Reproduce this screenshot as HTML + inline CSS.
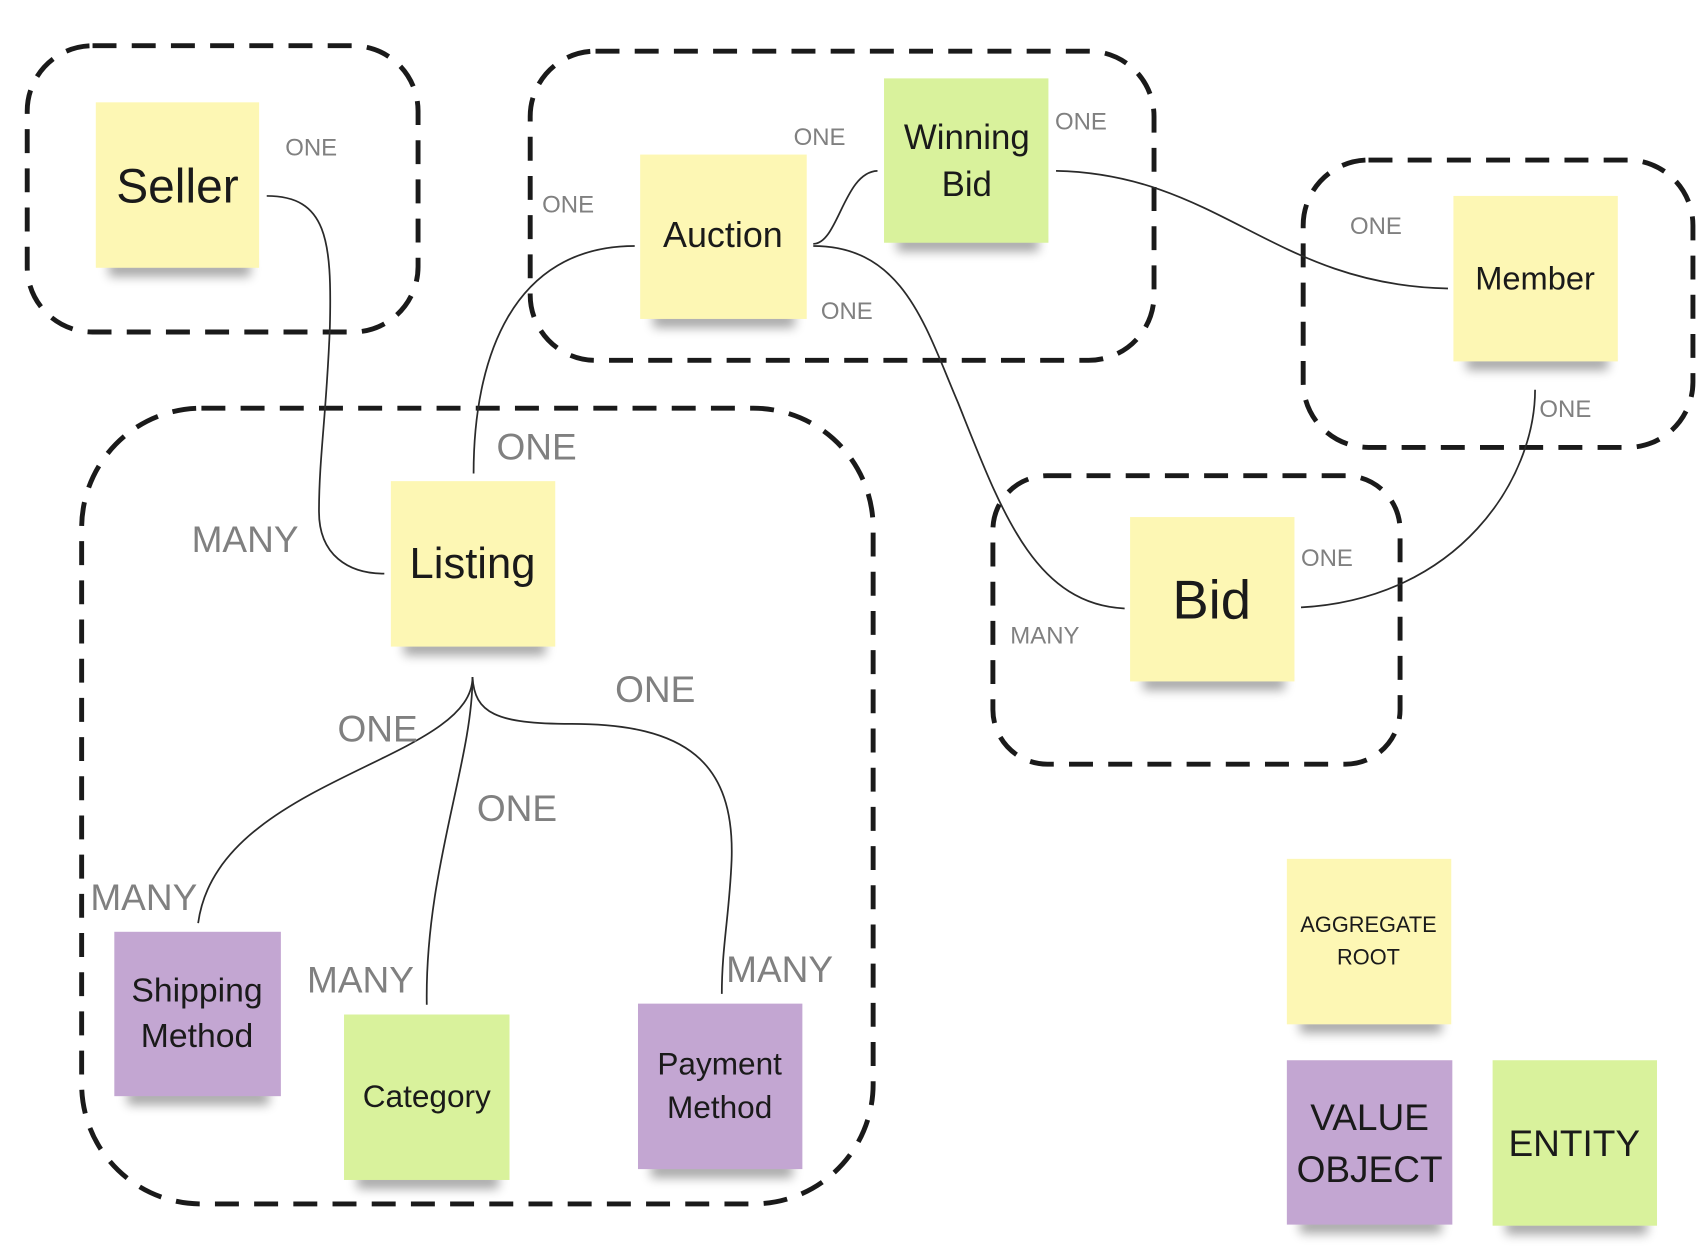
<!DOCTYPE html>
<html><head><meta charset="utf-8"><style>
html,body{margin:0;padding:0;background:#fff;width:1706px;height:1254px;overflow:hidden}
svg{display:block}
text{font-family:"Liberation Sans","DejaVu Sans",sans-serif}
.n{fill:#1a1a1a;text-anchor:middle}
.l{fill:#808080}
.c{fill:none;stroke:#2a2a2a;stroke-width:1.6}
.d{fill:none;stroke:#1a1a1a;stroke-width:4.5;stroke-dasharray:22 14}
</style></head><body>
<svg width="1706" height="1254" viewBox="0 0 1567 1152" preserveAspectRatio="none" xmlns="http://www.w3.org/2000/svg">
<defs><filter id="b" x="-20%" y="-50%" width="140%" height="200%"><feGaussianBlur stdDeviation="5"/></filter></defs>
<rect class="d" x="25" y="42" width="359" height="263" rx="60"/>
<rect class="d" x="487" y="47" width="573" height="284" rx="60"/>
<rect class="d" x="1197" y="147" width="358" height="264" rx="60"/>
<rect class="d" x="912" y="437" width="374" height="265" rx="50"/>
<rect class="d" x="75" y="375" width="727" height="731" rx="110"/>
<g fill="#000" opacity="0.35" filter="url(#b)">
<rect x="100" y="240" width="130" height="14"/>
<rect x="600" y="287" width="130" height="14"/>
<rect x="824" y="217" width="130" height="14"/>
<rect x="1347" y="326" width="130" height="14"/>
<rect x="1050" y="620" width="130" height="14"/>
<rect x="371" y="588" width="130" height="14"/>
<rect x="117" y="1001" width="130" height="14"/>
<rect x="328" y="1078" width="130" height="14"/>
<rect x="598" y="1068" width="130" height="14"/>
<rect x="1194" y="935" width="130" height="14"/>
<rect x="1194" y="1119" width="130" height="14"/>
<rect x="1383" y="1120" width="130" height="14"/>
</g>
<g>
<rect x="88" y="94" width="150" height="152" fill="#fdf7b4"/>
<rect x="588" y="142" width="153" height="151" fill="#fdf7b4"/>
<rect x="812" y="72" width="151" height="151" fill="#d9f29c"/>
<rect x="1335" y="180" width="151" height="152" fill="#fdf7b4"/>
<rect x="1038" y="475" width="151" height="151" fill="#fdf7b4"/>
<rect x="359" y="442" width="151" height="152" fill="#fdf7b4"/>
<rect x="105" y="856" width="153" height="151" fill="#c3a6d2"/>
<rect x="316" y="932" width="152" height="152" fill="#d9f29c"/>
<rect x="586" y="922" width="151" height="152" fill="#c3a6d2"/>
<rect x="1182" y="789" width="151" height="152" fill="#fdf7b4"/>
<rect x="1182" y="974" width="152" height="151" fill="#c3a6d2"/>
<rect x="1371" y="974" width="151" height="152" fill="#d9f29c"/>
</g>
<path class="c" d="M245,180 C300,180 305,220 303,300 C300,380 293,420 293,470 C293,510 320,527 353,527"/>
<path class="c" d="M583,226 C470,226 435,330 435,435"/>
<path class="c" d="M747,224 C770,224 775,158 806,157"/>
<path class="c" d="M747,226 C830,226 850,300 880,370 C920,470 950,555 1033,559"/>
<path class="c" d="M970,157 C1120,160 1170,262 1330,265"/>
<path class="c" d="M1410,358 C1410,440 1340,550 1195,558"/>
<path class="c" d="M434,622 C434,700 200,715 182,848"/>
<path class="c" d="M434,622 C434,700 390,800 392,923"/>
<path class="c" d="M434,622 C436,655 455,665 525,665 C630,665 675,700 672,790 C670,840 663,870 663,913"/>
<text class="n" x="163" y="186" font-size="44">Seller</text>
<text class="n" x="664" y="227" font-size="33">Auction</text>
<text class="n" x="888" y="137" font-size="32">Winning</text>
<text class="n" x="888" y="180" font-size="32">Bid</text>
<text class="n" x="1410" y="266" font-size="30">Member</text>
<text class="n" x="1113" y="568" font-size="50">Bid</text>
<text class="n" x="434" y="531" font-size="40">Listing</text>
<text class="n" x="181" y="920" font-size="31">Shipping</text>
<text class="n" x="181" y="962" font-size="31">Method</text>
<text class="n" x="392" y="1017" font-size="29">Category</text>
<text class="n" x="661" y="987" font-size="29">Payment</text>
<text class="n" x="661" y="1027" font-size="29">Method</text>
<text class="n" x="1257" y="856" font-size="20">AGGREGATE</text>
<text class="n" x="1257" y="886" font-size="20">ROOT</text>
<text class="n" x="1258" y="1038" font-size="34">VALUE</text>
<text class="n" x="1258" y="1086" font-size="34">OBJECT</text>
<text class="n" x="1446" y="1062" font-size="34">ENTITY</text>
<g class="l" font-size="22">
<text x="262" y="143">ONE</text>
<text x="498" y="195">ONE</text>
<text x="729" y="133">ONE</text>
<text x="969" y="119">ONE</text>
<text x="754" y="293">ONE</text>
<text x="1240" y="215">ONE</text>
<text x="1414" y="383">ONE</text>
<text x="1195" y="520">ONE</text>
<text x="928" y="591">MANY</text>
</g>
<g class="l" font-size="34">
<text x="456" y="422">ONE</text>
<text x="176" y="507">MANY</text>
<text x="310" y="681">ONE</text>
<text x="565" y="645">ONE</text>
<text x="438" y="754">ONE</text>
<text x="83" y="836">MANY</text>
<text x="282" y="912">MANY</text>
<text x="667" y="902">MANY</text>
</g>
</svg>
</body></html>
